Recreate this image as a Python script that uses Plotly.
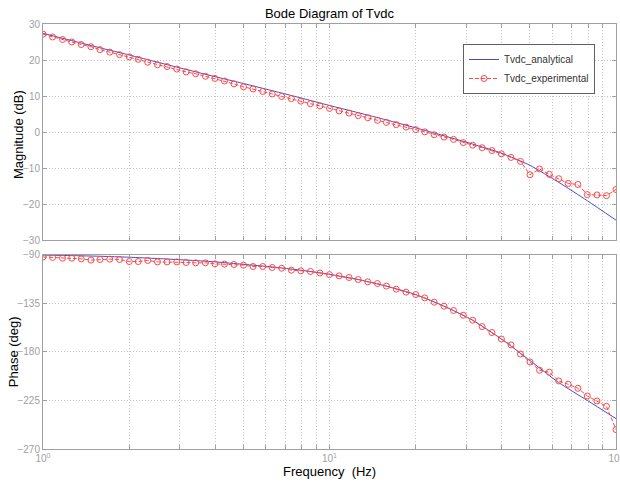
import plotly.graph_objects as go

# ---- data ----
freq_exp = [1.00, 1.08, 1.17, 1.26, 1.36, 1.47, 1.58, 1.71, 1.85, 2.00,
            2.15, 2.32, 2.51, 2.71, 2.93, 3.16, 3.41, 3.69, 3.98, 4.30,
            4.64, 5.01, 5.41, 5.85, 6.31, 6.81, 7.36, 7.94, 8.58, 9.26,
            10.0, 10.8, 11.7, 12.6, 13.6, 14.7, 15.8, 17.1, 18.5, 20.0,
            21.5, 23.2, 25.1, 27.1, 29.3, 31.6, 34.1, 36.9, 39.8, 43.0,
            46.4, 50.1, 54.1, 58.5, 63.1, 68.1, 73.6, 79.4, 85.8, 92.6,
            100.0]

mag_exp = [27.2, 26.4, 25.7, 25.0, 24.3, 23.7, 22.9, 22.2, 21.5, 20.9,
           20.2, 19.4, 18.7, 18.2, 17.5, 16.7, 16.2, 15.5, 14.9, 14.2,
           13.4, 12.6, 12.0, 11.3, 10.6, 9.9, 9.3, 8.6, 7.9, 7.3,
           6.6, 5.9, 5.3, 4.6, 4.0, 3.3, 2.7, 2.1, 1.4, 0.7,
           0.1, -0.7, -1.35, -2.0, -2.9, -3.6, -4.3, -5.1, -6.0, -7.0,
           -8.1, -11.8, -10.2, -11.7, -12.9, -14.2, -14.5, -17.3, -17.4, -17.6,
           -15.9]

phase_exp = [-92.0, -92.4, -93.1, -93.1, -93.7, -94.9, -94.3, -94.0, -94.3, -96.2,
             -96.2, -95.2, -96.5, -96.5, -96.5, -97.1, -97.4, -97.4, -98.3, -98.6,
             -98.9, -99.6, -100.8, -100.8, -101.7, -102.4, -104.2, -104.8, -105.4, -106.8,
             -108.3, -109.5, -111.0, -112.9, -115.0, -116.6, -119.0, -121.8, -124.6, -126.8,
             -129.9, -133.9, -137.6, -141.6, -146.0, -150.6, -156.5, -162.0, -168.0, -173.5,
             -181.9, -189.3, -197.0, -198.8, -206.9, -210.0, -213.7, -220.8, -225.5, -230.4,
             -252.0]

freq_an = [1.00, 1.26, 1.58, 2.00, 2.51, 3.16, 3.98, 5.01, 6.31, 7.94,
           10.0, 12.6, 15.8, 20.0, 25.1, 31.6, 39.8, 50.1, 63.1, 79.4, 100.0]
mag_an = [27.4, 25.4, 23.4, 21.4, 19.4, 17.4, 15.4, 13.5, 11.5, 9.5,
          7.4, 5.4, 3.4, 1.2, -1.0, -3.3, -5.8, -9.2, -13.9, -19.0, -24.4]
phase_an = [-90.2, -90.7, -91.3, -92.2, -93.4, -94.8, -96.5, -98.8, -101.2, -104.2,
            -108.0, -112.9, -119.0, -126.8, -137.6, -150.6, -168.0, -188.0, -208.4, -225.0, -241.8]

mag_ticks = [-30, -20, -10, 0, 10, 20, 30]
phase_ticks = [-270, -225, -180, -135, -90]
x_tickvals = [1, 2, 3, 4, 5, 6, 7, 8, 9, 10, 20, 30, 40, 50, 60, 70, 80, 90, 100]
x_ticktext = ["10<sup>0</sup>"] + [" "] * 8 + ["10<sup>1</sup>"] + [" "] * 8 + ["10<sup>2</sup>"]

# ---- styling ----
BLUE = "#4a4ac4"
RED = "#ff4848"
GRID = "#c4c4c4"
AX = "#a0a0a0"
FONT = "Liberation Sans, Arial, sans-serif"
TICKFONT = dict(family=FONT, size=10, color="#a0a0a0")
DOT = "1px,2px"

fig = go.Figure()

fig.add_trace(go.Scatter(x=freq_an, y=mag_an, mode="lines", name="Tvdc_analytical",
                         line=dict(color=BLUE, width=1, shape="spline", smoothing=0.6),
                         xaxis="x", yaxis="y"))
fig.add_trace(go.Scatter(x=freq_exp, y=mag_exp, mode="lines+markers", name="Tvdc_experimental",
                         line=dict(color=RED, width=1, dash="4px,2px"),
                         marker=dict(symbol="circle-open", size=6, color=RED, line=dict(width=1)),
                         xaxis="x", yaxis="y"))
fig.add_trace(go.Scatter(x=freq_an, y=phase_an, mode="lines", showlegend=False,
                         line=dict(color=BLUE, width=1, shape="spline", smoothing=0.6),
                         xaxis="x2", yaxis="y2"))
fig.add_trace(go.Scatter(x=freq_exp, y=phase_exp, mode="lines+markers", showlegend=False,
                         line=dict(color=RED, width=1, dash="4px,2px"),
                         marker=dict(symbol="circle-open", size=6, color=RED, line=dict(width=1)),
                         xaxis="x2", yaxis="y2"))

xcommon = dict(type="log", range=[0, 2], tickvals=x_tickvals, showgrid=True,
               gridcolor=GRID, griddash=DOT, gridwidth=1, showline=True, linecolor=AX,
               linewidth=1, mirror="ticks", ticks="inside", ticklen=4, tickcolor=AX,
               zeroline=False, tickfont=TICKFONT, automargin=False)
ycommon = dict(showgrid=True, gridcolor=GRID, griddash=DOT, showline=True, linecolor=AX,
               linewidth=1, mirror="ticks", ticks="inside", ticklen=4, tickcolor=AX,
               zeroline=False, tickfont=TICKFONT, automargin=False)

fig.update_layout(
    width=620, height=486,
    margin=dict(l=43, r=4, t=24, b=37, autoexpand=False),
    paper_bgcolor="white", plot_bgcolor="white",
    title=dict(text="Bode Diagram of Tvdc", x=(43 + 616) / 2 / 620, xanchor="center",
               y=1 - 13 / 486, yanchor="middle",
               font=dict(family=FONT, size=13, color="black")),
    xaxis=dict(domain=[0, 1], anchor="y", showticklabels=False, **xcommon),
    xaxis2=dict(domain=[0, 1], anchor="y2", ticktext=x_ticktext, matches="x",
                ticklabeloverflow="allow", **xcommon),
    yaxis=dict(domain=[0.4909, 1], range=[-30, 30], tickvals=mag_ticks, **ycommon),
    yaxis2=dict(domain=[0, 0.4568], range=[-270, -90], tickvals=phase_ticks, **ycommon),
    legend=dict(x=(463 - 43) / 573, y=(448.7 - 44) / 424.7, xanchor="left", yanchor="top",
                bordercolor="#606060", borderwidth=1, bgcolor="white",
                font=dict(family=FONT, size=10, color="#333333"),
                tracegroupgap=0, itemwidth=30),
    showlegend=True,
)

fig.add_annotation(text="Magnitude (dB)", xref="paper", yref="paper",
                   x=(18 - 43) / 573, y=(448.7 - 135) / 424.7, textangle=-90,
                   xanchor="center", yanchor="middle",
                   showarrow=False, font=dict(family=FONT, size=13, color="black"))
fig.add_annotation(text="Phase (deg)", xref="paper", yref="paper",
                   x=(13 - 43) / 573, y=(448.7 - 352) / 424.7, textangle=-90,
                   xanchor="center", yanchor="middle",
                   showarrow=False, font=dict(family=FONT, size=13, color="black"))
fig.add_annotation(text="Frequency&nbsp; (Hz)", xref="paper", yref="paper",
                   x=0.5, y=(448.7 - 471) / 424.7, xanchor="center", yanchor="middle",
                   showarrow=False, font=dict(family=FONT, size=13, color="black"))

fig.write_html("out.html")
